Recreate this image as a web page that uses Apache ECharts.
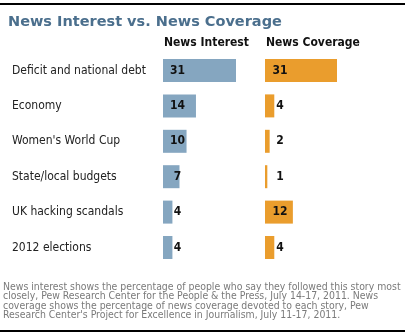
<!DOCTYPE html>
<html><head><meta charset="utf-8">
<script src="https://cdn.jsdelivr.net/npm/echarts@6/dist/echarts.min.js"></script>
<style>html,body{margin:0;padding:0;background:#fff}#c{width:408px;height:336px}</style>
</head><body><div id="c"></div>
<script>
const categories = ["Deficit and national debt","Economy","Women's World Cup","State/local budgets","UK hacking scandals","2012 elections"];
const newsInterest = [31,14,10,7,4,4];
const newsCoverage = [31,4,2,1,12,4];
const seriesNames = ["News Interest","News Coverage"];
const titleText = "News Interest vs. News Coverage";
const footnote = "News interest shows the percentage of people who say they followed this story most\nclosely, Pew Research Center for the People & the Press, July 14-17, 2011. News\ncoverage shows the percentage of news coverage devoted to each story, Pew\nResearch Center's Project for Excellence in Journalism, July 11-17, 2011.";

const FONT = "'DejaVu Sans Condensed','DejaVu Sans',sans-serif";
const chart = echarts.init(document.getElementById('c'), null, {renderer:'canvas'});
const gridTop = 52.8, gridHeight = 212.4;
const labelCommon = {show:true, color:'#111', fontWeight:'bold', fontSize:12, fontFamily:FONT, align:'center', verticalAlign:'middle'};
chart.setOption({
  animation:false,
  title:{text:titleText, left:3, top:10, textStyle:{color:'#4b6f8d', fontSize:14.5, fontWeight:'bold', fontFamily:"'DejaVu Sans',sans-serif"}},
  grid:[
    {left:163, top:gridTop, width:73, height:gridHeight},
    {left:265, top:gridTop, width:72, height:gridHeight}
  ],
  xAxis:[
    {gridIndex:0, type:'value', min:0, max:31, show:false},
    {gridIndex:1, type:'value', min:0, max:31, show:false}
  ],
  yAxis:[
    {gridIndex:0, type:'category', data:categories, inverse:true, axisLine:{show:false}, axisTick:{show:false},
     axisLabel:{align:'left', margin:151, color:'#222', fontSize:12, fontFamily:FONT, padding:[6,0,0,0]}},
    {gridIndex:1, type:'category', data:categories, inverse:true, show:false}
  ],
  series:[
    {name:seriesNames[0], type:'bar', xAxisIndex:0, yAxisIndex:0, data:newsInterest, barWidth:23,
     itemStyle:{color:'#85a6c0'}, label:Object.assign({position:[14.5,'50%']}, labelCommon)},
    {name:seriesNames[1], type:'bar', xAxisIndex:1, yAxisIndex:1, data:newsCoverage, barWidth:23,
     itemStyle:{color:'#ea9d2d'}, label:Object.assign({position:[15,'50%']}, labelCommon)}
  ],
  graphic:[
    {type:'line', shape:{x1:0,y1:4,x2:405,y2:4}, style:{stroke:'#000', lineWidth:2}},
    {type:'line', shape:{x1:0,y1:331,x2:405,y2:331}, style:{stroke:'#000', lineWidth:2}},
    {type:'text', left:164, top:37, style:{text:seriesNames[0], fill:'#111', font:"bold 12px "+FONT}},
    {type:'text', left:266, top:37, style:{text:seriesNames[1], fill:'#111', font:"bold 12px "+FONT}},
    {type:'text', left:3, top:282, style:{text:footnote, fill:'#7a7a7a', font:"10.4px "+FONT, lineHeight:9.4}}
  ]
});
</script></body></html>
